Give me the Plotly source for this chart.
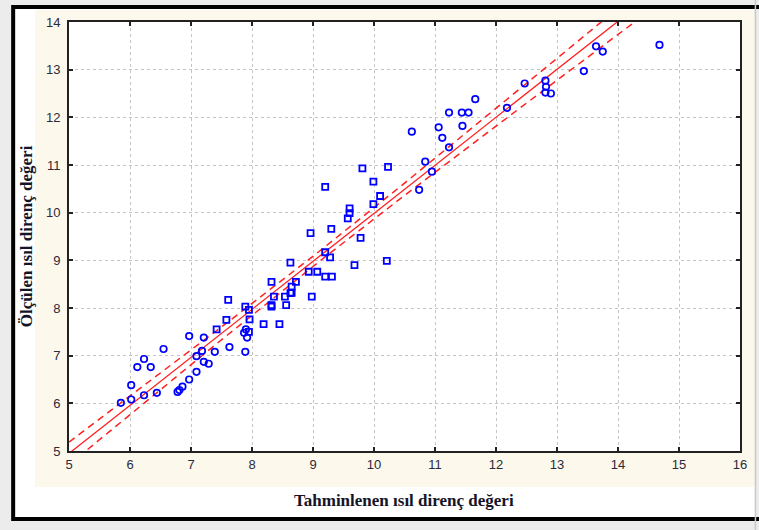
import numpy as np
import plotly.graph_objects as go

# Square-marker observations (predicted, measured)
sq_x = [7.61, 7.89, 7.95, 7.96, 7.58, 7.42, 7.95, 8.19, 8.45, 8.32, 8.32, 8.32, 8.36, 8.54,
        8.56, 8.63, 8.65, 8.65, 8.63, 8.72, 8.93, 9.07, 8.98, 8.96, 9.30, 9.20, 9.28, 9.20,
        9.31, 9.68, 9.78, 10.21, 9.81, 10.23, 9.20, 9.99, 10.10, 9.99, 9.60, 9.60, 9.57]
sq_y = [8.17, 8.03, 7.96, 7.76, 7.75, 7.55, 7.50, 7.66, 7.66, 8.06, 8.03, 8.55, 8.24, 8.24,
        8.06, 8.95, 8.45, 8.32, 8.31, 8.55, 8.76, 8.76, 8.24, 9.57, 9.66, 9.17, 9.06, 8.66,
        8.66, 8.90, 9.47, 8.99, 10.93, 10.96, 10.54, 10.65, 10.35, 10.18, 10.09, 9.99, 9.88]

# Circle-marker observations (predicted, measured)
ci_x = [6.97, 7.21, 7.87, 7.92, 7.90, 7.39, 7.63, 7.89, 6.55, 7.18, 7.09, 7.21, 7.29, 6.23,
        6.12, 6.34, 7.09, 6.97, 6.86, 6.78, 6.81, 6.02, 6.44, 6.23, 6.02, 5.85,
        10.84, 10.95, 10.74, 10.62, 11.06, 11.12, 11.23, 11.23, 11.44, 11.55, 11.45, 11.66,
        12.18, 12.47, 12.81, 12.82, 12.81, 12.90, 13.44, 13.64, 13.75, 14.68]
ci_y = [7.41, 7.38, 7.48, 7.38, 7.55, 7.08, 7.18, 7.08, 7.14, 7.10, 6.99, 6.87, 6.83, 6.93,
        6.76, 6.76, 6.66, 6.50, 6.35, 6.24, 6.28, 6.38, 6.22, 6.17, 6.08, 6.01,
        11.07, 10.86, 10.48, 11.70, 11.79, 11.57, 11.37, 12.10, 12.10, 12.10, 11.82, 12.38,
        12.20, 12.71, 12.77, 12.64, 12.52, 12.50, 12.97, 13.49, 13.38, 13.52]

x_ticks = [5, 6, 7, 8, 9, 10, 11, 12, 13, 14, 15, 16]
y_ticks = [5, 6, 7, 8, 9, 10, 11, 12, 13, 14]
x_title = "Tahminlenen ısıl direnç değeri"
y_title = "Ölçülen ısıl direnç değeri"

# Linear regression with 95% confidence band, fitted on the data above
X = np.array(sq_x + ci_x)
Y = np.array(sq_y + ci_y)
n = len(X)
slope, intercept = np.polyfit(X, Y, 1)
resid = Y - (intercept + slope * X)
s = np.sqrt(np.sum(resid ** 2) / (n - 2))
xm = X.mean()
sxx = np.sum((X - xm) ** 2)
t = 1.987
gx = np.linspace(5, 16, 300)
gy = intercept + slope * gx
half = t * s * np.sqrt(1.0 / n + (gx - xm) ** 2 / sxx)

W, H = 759, 530
L, R, T, B = 69, 742, 22, 451
pw, ph = R - L, B - T

def px(v):
    return (v - L) / pw

def py(v):
    return (B - v) / ph

fig = go.Figure()
fig.add_trace(go.Scatter(x=gx, y=gy + half, mode="lines",
                         line=dict(color="#ff2020", width=1.5, dash="7px,5px"), hoverinfo="skip"))
fig.add_trace(go.Scatter(x=gx, y=gy - half, mode="lines",
                         line=dict(color="#ff2020", width=1.5, dash="7px,5px"), hoverinfo="skip"))
fig.add_trace(go.Scatter(x=gx, y=gy, mode="lines",
                         line=dict(color="#ff2020", width=1.3), hoverinfo="skip"))
fig.add_trace(go.Scatter(x=sq_x, y=sq_y, mode="markers",
                         marker=dict(symbol="square-open", size=6, color="#0000ff",
                                     line=dict(width=1.8, color="#0000ff"))))
fig.add_trace(go.Scatter(x=ci_x, y=ci_y, mode="markers",
                         marker=dict(symbol="circle-open", size=6.5, color="#0000ff",
                                     line=dict(width=1.7, color="#0000ff"))))

shapes = [
    dict(type="rect", xref="paper", yref="paper", x0=px(13), x1=px(757), y0=py(519), y1=py(7),
         fillcolor="white", line=dict(width=0), layer="below"),
    dict(type="rect", xref="paper", yref="paper", x0=px(35), x1=px(757), y0=py(487), y1=py(10),
         fillcolor="#fdf8ec", line=dict(width=0), layer="below"),
    dict(type="rect", xref="paper", yref="paper", x0=0, x1=1, y0=0, y1=1,
         fillcolor="white", line=dict(width=0), layer="below"),
    dict(type="rect", xref="paper", yref="paper", x0=px(13), x1=px(775), y0=py(519), y1=py(7),
         fillcolor="rgba(0,0,0,0)", line=dict(width=4, color="black"), layer="above"),
    dict(type="line", xref="paper", yref="paper", x0=px(757.5), x1=px(757.5), y0=py(530), y1=py(0),
         line=dict(width=1.5, color="#c8c8c8"), layer="above"),
]

tickfont = dict(family="Liberation Sans, Arial, sans-serif", size=13, color="#2a2a3a")
fig.update_layout(
    width=W, height=H,
    margin=dict(l=L, r=W - R, t=T, b=H - B),
    paper_bgcolor="#ececec", plot_bgcolor="white",
    showlegend=False,
    shapes=shapes,
    annotations=[
        dict(text="<b>" + x_title + "</b>", xref="paper", yref="paper", x=px(405), y=py(500),
             showarrow=False, font=dict(family="Liberation Serif, Times New Roman, serif",
                                        size=17, color="#141428"), xanchor="center", yanchor="middle"),
        dict(text="<b>" + y_title + "</b>", xref="paper", yref="paper", x=px(26), y=py(236),
             showarrow=False, textangle=-90,
             font=dict(family="Liberation Serif, Times New Roman, serif", size=17, color="#141428"),
             xanchor="center", yanchor="middle"),
    ],
)
fig.update_xaxes(range=[5, 16], tickvals=x_ticks, ticks="inside", ticklen=4, tickwidth=1.5,
                 tickcolor="#222", showline=True, linecolor="#222", linewidth=2, mirror="ticks",
                 showgrid=True, gridcolor="#c4c4c4", griddash="dot", gridwidth=1,
                 zeroline=False, tickfont=tickfont)
fig.update_yaxes(range=[5, 14], tickvals=y_ticks, ticks="inside", ticklen=4, tickwidth=1.5,
                 tickcolor="#222", showline=True, linecolor="#222", linewidth=2, mirror="ticks",
                 showgrid=True, gridcolor="#c4c4c4", griddash="dot", gridwidth=1,
                 zeroline=False, tickfont=tickfont, ticklabelstandoff=4)

fig.write_html("out.html")
